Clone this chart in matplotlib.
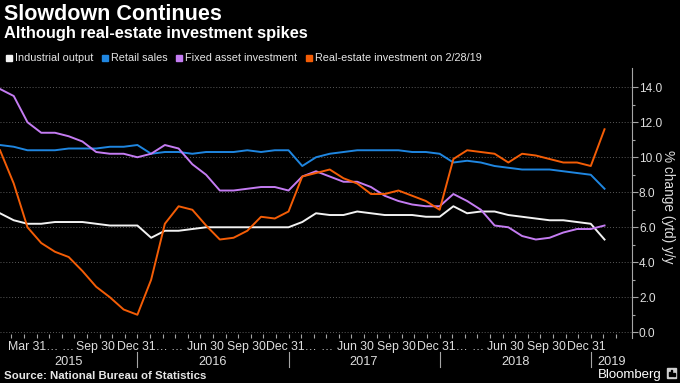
import numpy as np
import matplotlib
matplotlib.use("Agg")
import matplotlib.pyplot as plt
from matplotlib.patches import Rectangle
from matplotlib.transforms import blended_transform_factory

plt.rcParams['font.family'] = ['Liberation Sans', 'DejaVu Sans']

# monthly YTD readings (Jan-Feb combined), Feb 2015 .. Dec 2018, Feb 2019
MONTHS = ["Feb", "Mar", "Apr", "May", "Jun", "Jul", "Aug", "Sep", "Oct", "Nov", "Dec"]
periods = [f"{m} {y}" for y in (2015, 2016, 2017, 2018) for m in MONTHS] + ["Feb 2019"]

industrial = [6.8, 6.4, 6.2, 6.2, 6.3, 6.3, 6.3, 6.2, 6.1, 6.1, 6.1,
              5.4, 5.8, 5.8, 5.9, 6.0, 6.0, 6.0, 6.0, 6.0, 6.0, 6.0,
              6.3, 6.8, 6.7, 6.7, 6.9, 6.8, 6.7, 6.7, 6.7, 6.6, 6.6,
              7.2, 6.8, 6.9, 6.9, 6.7, 6.6, 6.5, 6.4, 6.4, 6.3, 6.2,
              5.3]
retail = [10.7, 10.6, 10.4, 10.4, 10.4, 10.5, 10.5, 10.5, 10.6, 10.6, 10.7,
          10.2, 10.3, 10.3, 10.2, 10.3, 10.3, 10.3, 10.4, 10.3, 10.4, 10.4,
          9.5, 10.0, 10.2, 10.3, 10.4, 10.4, 10.4, 10.4, 10.3, 10.3, 10.2,
          9.7, 9.8, 9.7, 9.5, 9.4, 9.3, 9.3, 9.3, 9.2, 9.1, 9.0,
          8.2]
fixed_asset = [13.9, 13.5, 12.0, 11.4, 11.4, 11.2, 10.9, 10.3, 10.2, 10.2, 10.0,
               10.2, 10.7, 10.5, 9.6, 9.0, 8.1, 8.1, 8.2, 8.3, 8.3, 8.1,
               8.9, 9.2, 8.9, 8.6, 8.6, 8.3, 7.8, 7.5, 7.3, 7.2, 7.2,
               7.9, 7.5, 7.0, 6.1, 6.0, 5.5, 5.3, 5.4, 5.7, 5.9, 5.9,
               6.1]
real_estate = [10.4, 8.5, 6.0, 5.1, 4.6, 4.3, 3.5, 2.6, 2.0, 1.3, 1.0,
               3.0, 6.2, 7.2, 7.0, 6.1, 5.3, 5.4, 5.8, 6.6, 6.5, 6.9,
               8.9, 9.1, 9.3, 8.8, 8.5, 7.9, 7.9, 8.1, 7.8, 7.5, 7.0,
               9.9, 10.4, 10.3, 10.2, 9.7, 10.2, 10.1, 9.9, 9.7, 9.7, 9.5,
               11.6]

series_names = ["Industrial output", "Retail sales", "Fixed asset investment",
                "Real-estate investment on 2/28/19"]
series_colors = ["#f2f2f2", "#1f86e0", "#c47cf2", "#f45d06"]

years = ["2015", "2016", "2017", "2018", "2019"]
quarter_labels = ["Mar 31…", "…", "Sep 30", "Dec 31…", "…", "Jun 30", "Sep 30",
                  "Dec 31…", "…", "Jun 30", "Sep 30", "Dec 31…", "…", "Jun 30",
                  "Sep 30", "Dec 31"]

# layout (pixels of the 680x383 canvas)
W, H = 680, 383
quarter_px = [8, 61, 76, 117, 170, 187, 227, 266, 320, 337, 377, 417, 471, 487, 527, 567]
year_bounds = [0, 10, 21, 32, 43, 46]   # index of Dec points / axis ends
grey = "#a6a6a6"
txt = "#dedede"

x = np.arange(len(periods))

fig = plt.figure(figsize=(W / 100, H / 100), dpi=100, facecolor="black")
ax = fig.add_axes([0, 1 - 338.4 / H, 632 / W, (338.4 - 68) / H])
ax.set_facecolor("black")

for vals, name, col in zip([industrial, retail, fixed_asset, real_estate],
                           series_names, series_colors):
    ax.plot(x, vals, color=col, lw=1.4, label=name, zorder=3)

ax.set_xlim(0, 46)
ax.set_ylim(-0.35, 15.1)

# y axis on the right
ax.yaxis.tick_right()
ax.set_yticks(np.arange(0, 15, 2))
ax.set_yticks(np.arange(1, 15, 2), minor=True)
ax.set_yticklabels([f"{v:.1f}" for v in np.arange(0, 15, 2)])
ax.tick_params(axis="y", which="major", direction="out", length=4, width=0.8,
               color=grey, labelcolor=txt, labelsize=8.6, pad=1)
ax.tick_params(axis="y", which="minor", direction="out", length=2, width=0.8, color=grey)
for s in ["top", "left", "bottom"]:
    ax.spines[s].set_visible(False)
ax.spines["right"].set_color(grey)
ax.spines["right"].set_linewidth(0.8)
ax.grid(axis="y", which="major", color="#5a5a5a", lw=0.7, ls=(0, (1, 2)))

# small monthly ticks on the bottom
ax.set_xticks([])
month_ticks = [t for t in np.arange(10 - 11, 47, 11 / 12) if 0 <= t <= 45.5]
ax.set_xticks(month_ticks, minor=True)
ax.tick_params(axis="x", which="minor", direction="in", length=3, width=0.8,
               color=grey, labelbottom=False)

# date labels
for lab, px in zip(quarter_labels, quarter_px):
    fig.text(px / W, 1 - 350 / H, lab, fontsize=8.8, color=txt, ha="left", va="baseline")

trans = blended_transform_factory(ax.transData, fig.transFigure)
for i, yr in enumerate(years):
    mid = (year_bounds[i] + year_bounds[i + 1]) / 2
    fig.text(mid, 1 - 365 / H, yr, fontsize=9.2, color=txt, ha="center",
             va="baseline", transform=trans)
for b in year_bounds[1:5]:
    ax.plot([b, b], [1 - 352 / H, 1 - 367 / H], color=grey, lw=0.8,
            transform=trans, clip_on=False)

fig.text(668 / W, 1 - 207 / H, "% change (ytd) y/y", rotation=270, fontsize=9.8,
         color=txt, ha="center", va="center")

# titles
fig.text(4 / W, 1 - 20 / H, "Slowdown Continues", fontsize=15.5, weight="bold",
         color="white", va="baseline")
fig.text(4 / W, 1 - 38 / H, "Although real-estate investment spikes", fontsize=11.8,
         weight="bold", color="white", va="baseline")

# legend row
legend_px = [6, 102, 176, 306]
for px, name, col in zip(legend_px, series_names, series_colors):
    fig.patches.append(Rectangle((px / W, 1 - 61 / H), 6 / W, 6 / H, color=col,
                                 transform=fig.transFigure, figure=fig))
    fig.text((px + 9) / W, 1 - 61 / H, name, fontsize=7.8, color="#e6e6e6", va="baseline")

# footer
fig.text(4 / W, 1 - 379 / H, "Source: National Bureau of Statistics", fontsize=8.2,
         weight="bold", color="#e6e6e6", va="baseline")
fig.text(662 / W, 1 - 378 / H, "Bloomberg", fontsize=9.5, color="white",
         ha="right", va="baseline")
fig.patches.append(Rectangle((667 / W, 1 - 378 / H), 9 / W, 10 / H, color="#cfcfcf",
                             transform=fig.transFigure, figure=fig))
for dx, hh in [(1.5, 4), (3.8, 6), (6.1, 3)]:
    fig.patches.append(Rectangle(((667 + dx) / W, 1 - 376 / H), 1.4 / W, hh / H,
                                 color="black", transform=fig.transFigure, figure=fig))

fig.savefig("out.png", dpi=100, facecolor="black")
